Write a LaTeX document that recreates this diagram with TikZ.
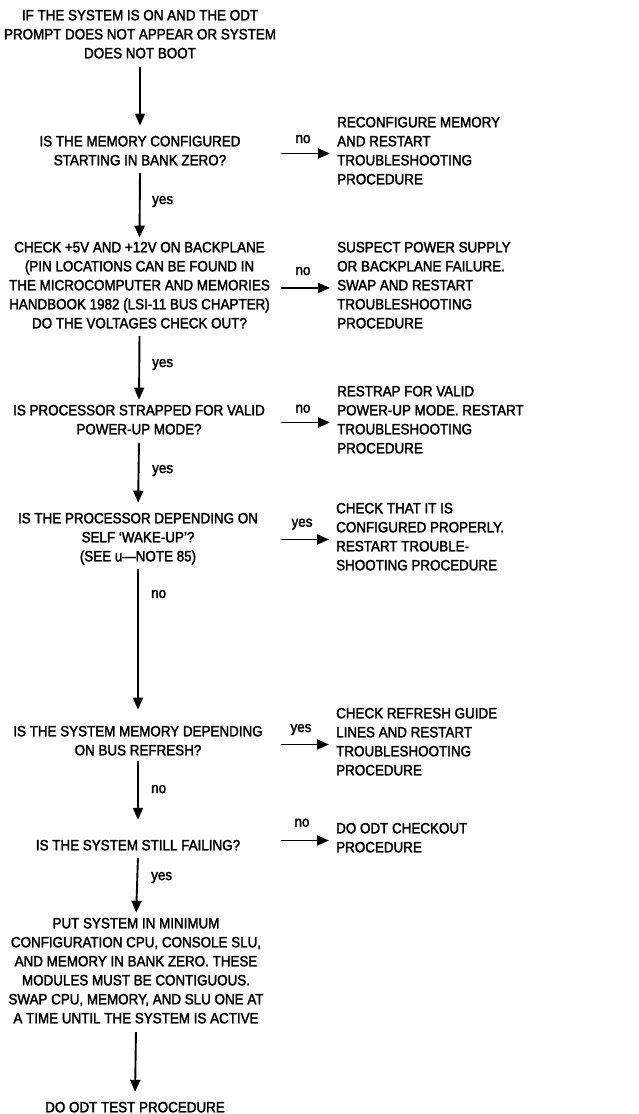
\documentclass[tikz,border=0pt]{standalone}
\usepackage{fontspec}
\setmainfont{Liberation Sans}[FakeStretch=0.9,FakeBold=2]
\usetikzlibrary{arrows.meta}
\begin{document}
\begin{tikzpicture}[x=1pt,y=-1pt,
  txt/.style={inner sep=0pt,font=\fontsize{14.9}{19}\selectfont,
    execute at begin node=\strut,execute at end node=\strut},
  qbox/.style={txt,align=center,anchor=base},
  abox/.style={txt,align=left,anchor=base west},
  lbl/.style={inner sep=0pt,font=\fontsize{14.9}{16}\selectfont},
  arr/.style={line width=1.9pt,-{Triangle[length=12pt,width=10pt]}}]
\useasboundingbox (0,0) rectangle (639,1114);
\coordinate (hx) at (281,0);
% main column (anchor = baseline of last line)
\node[qbox] (n1) at (140,58.3) {IF THE SYSTEM IS ON AND THE ODT\\PROMPT DOES NOT APPEAR OR SYSTEM\\DOES NOT BOOT};
\node[qbox] (n2) at (140,165.3) {IS THE MEMORY CONFIGURED\\STARTING IN BANK ZERO?};
\node[qbox] (n3) at (139.5,328.3) {CHECK +5V AND +12V ON BACKPLANE\\(PIN LOCATIONS CAN BE FOUND IN\\THE MICROCOMPUTER AND MEMORIES\\HANDBOOK 1982 (LSI-11 BUS CHAPTER)\\DO THE VOLTAGES CHECK OUT?};
\node[qbox] (n4) at (139,434.3) {IS PROCESSOR STRAPPED FOR VALID\\POWER-UP MODE?};
\node[qbox] (n5) at (138,561.3) {IS THE PROCESSOR DEPENDING ON\\SELF ‘WAKE-UP’?\\(SEE u—NOTE 85)};
\node[qbox] (n6) at (138,755.3) {IS THE SYSTEM MEMORY DEPENDING\\ON BUS REFRESH?};
\node[qbox] (n7) at (138,850.3) {IS THE SYSTEM STILL FAILING?};
\node[qbox] (n8) at (136,1023.3) {PUT SYSTEM IN MINIMUM\\CONFIGURATION CPU, CONSOLE SLU,\\AND MEMORY IN BANK ZERO. THESE\\MODULES MUST BE CONTIGUOUS.\\SWAP CPU, MEMORY, AND SLU ONE AT\\A TIME UNTIL THE SYSTEM IS ACTIVE};
\node[qbox] (n9) at (135,1112.3) {DO ODT TEST PROCEDURE};
% right column
\node[abox] (r2) at (337,184.3) {RECONFIGURE MEMORY\\AND RESTART\\TROUBLESHOOTING\\PROCEDURE};
\node[abox] (r3) at (337,328.3) {SUSPECT POWER SUPPLY\\OR BACKPLANE FAILURE.\\SWAP AND RESTART\\TROUBLESHOOTING\\PROCEDURE};
\node[abox] (r4) at (337,453.3) {RESTRAP FOR VALID\\POWER-UP MODE. RESTART\\TROUBLESHOOTING\\PROCEDURE};
\node[abox] (r5) at (336,570.3) {CHECK THAT IT IS\\CONFIGURED PROPERLY.\\RESTART TROUBLE-\\SHOOTING PROCEDURE};
\node[abox] (r6) at (336,775.3) {CHECK REFRESH GUIDE\\LINES AND RESTART\\TROUBLESHOOTING\\PROCEDURE};
\node[abox] (r7) at (336,852.3) {DO ODT CHECKOUT\\PROCEDURE};
% vertical arrows
\draw[arr,shorten <=3pt,shorten >=10pt] (n1.south) -- (n2.north);
\draw[arr,shorten <=2pt,shorten >=4pt] (n2.south) -- (n3.north);
\draw[arr,shorten <=2pt,shorten >=5pt] (n3.south) -- (n4.north);
\draw[arr,shorten <=3pt,shorten >=10pt] (n4.south) -- (n5.north);
\draw[arr,shorten <=2pt,shorten >=16pt] (n5.south) -- (n6.north);
\draw[arr,shorten <=0pt,shorten >=17pt] (n6.south) -- (n7.north);
\draw[arr,shorten <=2pt,shorten >=5pt] (n7.south) -- (n8.north);
\draw[arr,shorten <=3pt,shorten >=7pt] (n8.south) -- (n9.north);
% vertical labels
\node[lbl,anchor=base west] (y2) at (152,204) {yes};
\node[lbl,anchor=base west] (y3) at (152,367) {yes};
\node[lbl,anchor=base west] (y4) at (152,473) {yes};
\node[lbl,anchor=base west] (y5) at (151,598) {no};
\node[lbl,anchor=base west] (y6) at (151,793) {no};
\node[lbl,anchor=base west] (y7) at (151,880) {yes};
% horizontal arrows
\draw[arr,shorten >=7pt] (r2.west -| hx) -- (r2.west);
\draw[arr,shorten >=7pt] (r3.west -| hx) -- (r3.west);
\draw[arr,shorten >=7pt] (r4.west -| hx) -- (r4.west);
\draw[arr,shorten >=7pt] (r5.west -| hx) -- (r5.west);
\draw[arr,shorten >=7pt] (r6.west -| hx) -- (r6.west);
\draw[arr,shorten >=7pt] (r7.west -| hx) -- (r7.west);
% horizontal labels
\node[lbl,anchor=base] (h2) at (303,143) {no};
\node[lbl,anchor=base] (h3) at (303,275) {no};
\node[lbl,anchor=base] (h4) at (303,412.7) {no};
\node[lbl,anchor=base] (h5) at (302,526.7) {yes};
\node[lbl,anchor=base] (h6) at (301,732) {yes};
\node[lbl,anchor=base] (h7) at (302,826.7) {no};
\end{tikzpicture}
\end{document}
